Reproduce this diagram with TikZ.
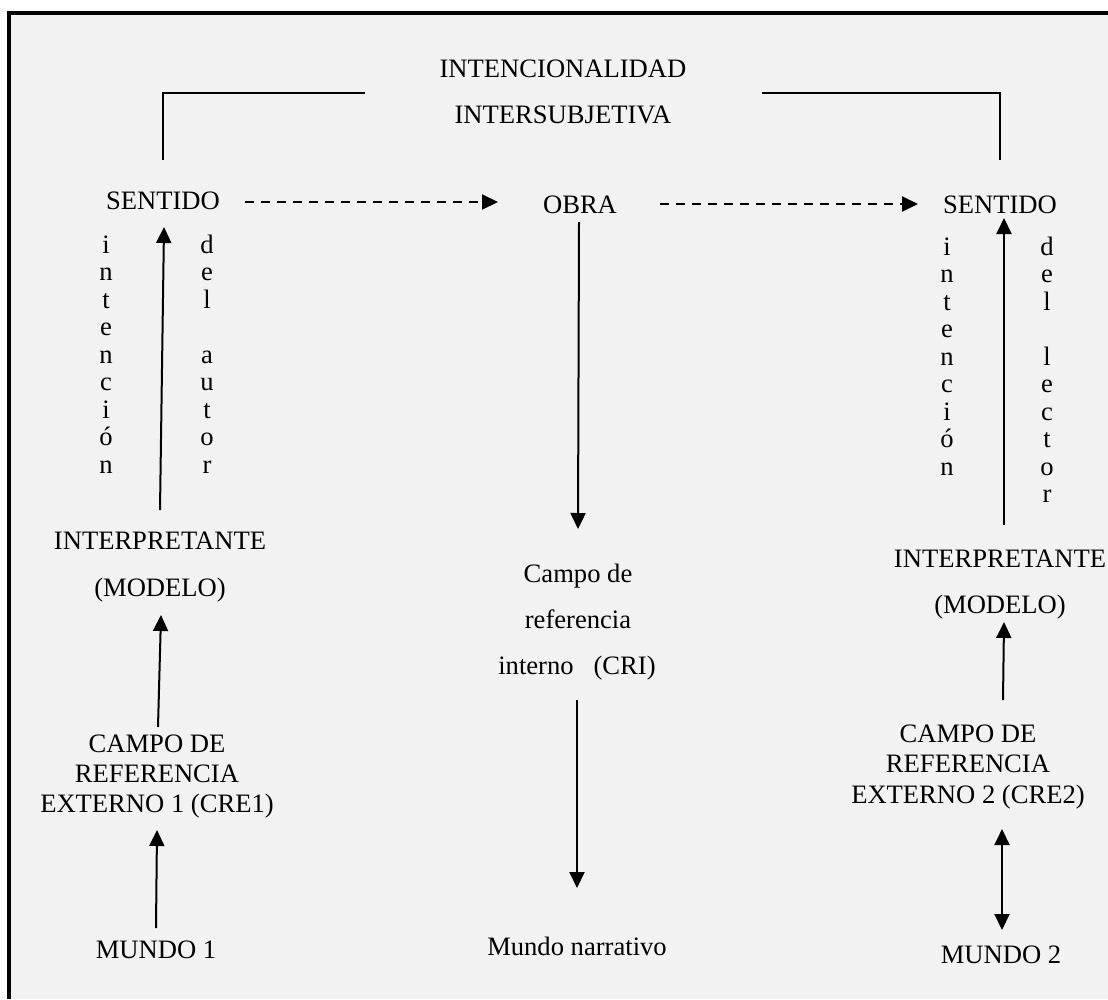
\documentclass[tikz,border=0pt]{standalone}
\usepackage{fontspec}
\setmainfont{Liberation Serif}
\usetikzlibrary{arrows.meta}
\definecolor{panel}{HTML}{F2F2F2}
\begin{document}
\begin{tikzpicture}[x=1pt,y=-1pt,
  lbl/.style={font=\fontsize{26.6}{30}\selectfont, inner sep=0pt, anchor=base},
  arr/.style={line width=2pt, -{Triangle[length=16pt,width=15pt]}},
  dash arr/.style={arr, dash pattern=on 9pt off 7pt},
  bracket/.style={line width=1.6pt},
]
\useasboundingbox (0,0) rectangle (1108,999);
% panel with heavy left and top rule
\fill[panel] (9,13) rectangle (1108,999);
\draw[line width=4pt] (9,999) -- (9,13) -- (1108,13);

% heading
\node[lbl] (t1) at (563,77) {INTENCIONALIDAD};
\node[lbl] (t2) at (563,123) {INTERSUBJETIVA};
\draw[bracket] (163,160) -- (163,93) -- (365,93);
\draw[bracket] (762,93) -- (1000,93) -- (1000,160);

% top row
\node[lbl] (s1) at (163,209) {SENTIDO};
\node[lbl] (ob) at (580,213) {OBRA};
\node[lbl] (s2) at (1000,213) {SENTIDO};

% left column
\node[lbl] (ip1) at (160,549) {INTERPRETANTE};
\node[lbl] (m1) at (160,596) {(MODELO)};
\node[lbl] (c1a) at (157,752) {CAMPO DE};
\node[lbl] (c1b) at (157,782) {REFERENCIA};
\node[lbl] (c1c) at (157,812) {EXTERNO 1 (CRE1)};
\node[lbl] (w1) at (156,958) {MUNDO 1};

% middle column
\node[lbl] (cri1) at (578,582) {Campo de};
\node[lbl] (cri2) at (578,628) {referencia};
\node[lbl] (cri3) at (577,674) {interno\ \ \ (CRI)};
\node[lbl] (mn) at (577,955) {Mundo narrativo};

% right column
\node[lbl] (ip2) at (1000,567) {INTERPRETANTE};
\node[lbl] (m2) at (1000,613) {(MODELO)};
\node[lbl] (c2a) at (968,742) {CAMPO DE};
\node[lbl] (c2b) at (968,772) {REFERENCIA};
\node[lbl] (c2c) at (968,803) {EXTERNO 2 (CRE2)};
\node[lbl] (w2) at (1001,963) {MUNDO 2};

% vertical lettering beside the rising arrows
\foreach \c [count=\i] in {i,n,t,e,n,c,i,ó,n}
  \node[lbl] (la\i) at (106,253+27.5*\i-27.5) {\c};
\foreach \c [count=\i] in {d,e,l,{},a,u,t,o,r}
  \node[lbl] (lb\i) at (207,253+27.5*\i-27.5) {\c};
\foreach \c [count=\i] in {i,n,t,e,n,c,i,ó,n}
  \node[lbl] (ra\i) at (947,255+27.5*\i-27.5) {\c};
\foreach \c [count=\i] in {d,e,l,{},l,e,c,t,o,r}
  \node[lbl] (rb\i) at (1047,255+27.5*\i-27.5) {\c};

% arrow end points
\coordinate (d1a) at (245,202);  \coordinate (d1b) at (498,202);
\coordinate (d2a) at (660,204);  \coordinate (d2b) at (918,204);
\coordinate (l1a) at (160,510);  \coordinate (l1b) at (164,227);
\coordinate (l2a) at (158,727);  \coordinate (l2b) at (161,615);
\coordinate (l3a) at (156,928);  \coordinate (l3b) at (157,830);
\coordinate (m1a) at (579,222);  \coordinate (m1b) at (578,529);
\coordinate (m2a) at (577,700);  \coordinate (m2b) at (577,888);
\coordinate (r1a) at (1004,525); \coordinate (r1b) at (1004,218);
\coordinate (r2a) at (1003,700); \coordinate (r2b) at (1004,622);
\coordinate (r3a) at (1002,829); \coordinate (r3b) at (1002,930);

\draw[dash arr] (d1a) -- (d1b);
\draw[dash arr] (d2a) -- (d2b);
\draw[arr] (l1a) -- (l1b);
\draw[arr] (l2a) -- (l2b);
\draw[arr] (l3a) -- (l3b);
\draw[arr] (m1a) -- (m1b);
\draw[arr] (m2a) -- (m2b);
\draw[arr] (r1a) -- (r1b);
\draw[arr] (r2a) -- (r2b);
\draw[arr, {Triangle[length=16pt,width=15pt]}-{Triangle[length=16pt,width=15pt]}] (r3a) -- (r3b);
\end{tikzpicture}
\end{document}
